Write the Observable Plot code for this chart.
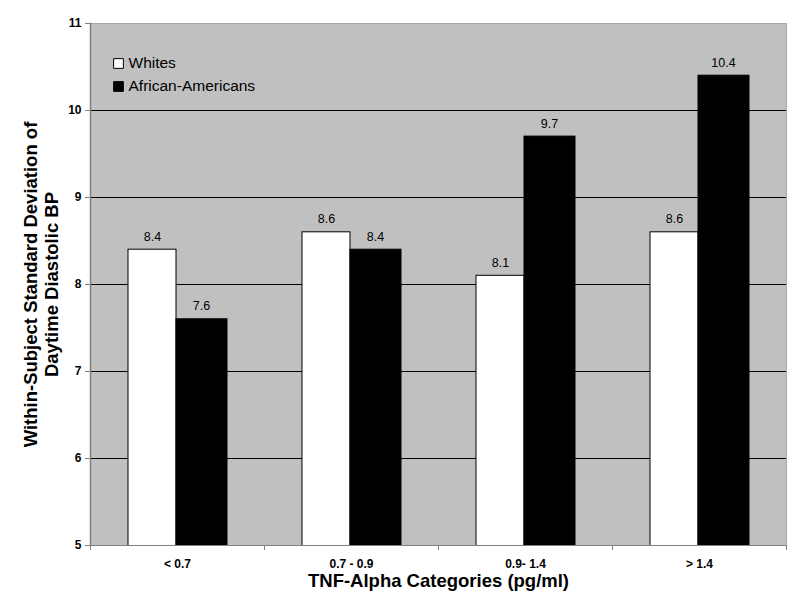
<!DOCTYPE html>
<html>
<head>
<meta charset="utf-8">
<script src="https://cdn.jsdelivr.net/npm/d3@7"></script>
<script src="https://cdn.jsdelivr.net/npm/@observablehq/plot@0.6"></script>
<style>
  html, body { margin: 0; padding: 0; background: #fff; }
  svg { font-family: "Liberation Sans", Arial, sans-serif; }
</style>
</head>
<body>
<div id="chart"></div>
<script>
const categories = ["< 0.7", "0.7 - 0.9", "0.9- 1.4", "> 1.4"];
const whites = [8.4, 8.6, 8.1, 8.6];
const africanAmericans = [7.6, 8.4, 9.7, 10.4];
const series = ["Whites", "African-Americans"];
const yTicks = [5, 6, 7, 8, 9, 10, 11];
const gridValues = [6, 7, 8, 9, 10];
const xTitle = "TNF-Alpha Categories (pg/ml)";
const yTitle = "Within-Subject Standard Deviation of\nDaytime Diastolic BP";

const W = categories.map((c, i) => ({category: c, value: whites[i]}));
const A = categories.map((c, i) => ({category: c, value: africanAmericans[i]}));

const font = "Liberation Sans, Arial, sans-serif";
const plotH = 522;

const chart = Plot.plot({
  width: 800,
  height: 615,
  marginLeft: 90,
  marginRight: 14,
  marginTop: 23,
  marginBottom: 70,
  style: {fontFamily: font, background: "#fff"},
  x: {domain: categories, padding: 0, axis: null},
  y: {domain: [5, 11], axis: null},
  marks: [
    Plot.frame({fill: "#c0c0c0", stroke: "#a8a8a8"}),
    Plot.ruleY(gridValues, {stroke: "#000", strokeWidth: 1}),
    Plot.barY(W, {x: "category", y: "value", fill: "#fff", stroke: "#000", strokeWidth: 1, insetLeft: 38, insetRight: 88, clip: true}),
    Plot.barY(A, {x: "category", y: "value", fill: "#000", stroke: "#000", strokeWidth: 1, insetLeft: 86, insetRight: 37, clip: true}),
    Plot.text(W, {x: "category", y: "value", text: d => d.value.toFixed(1), dx: -25, dy: -13, fontSize: 12.5, fill: "#000"}),
    Plot.text(A, {x: "category", y: "value", text: d => d.value.toFixed(1), dx: 24, dy: -13, fontSize: 12.5, fill: "#000"}),
    // axes lines
    Plot.frame({anchor: "left", stroke: "#808080", strokeWidth: 1.5}),
    Plot.ruleY([5], {stroke: "#808080", strokeWidth: 1}),
    Plot.axisY({ticks: yTicks, tickFormat: d => String(d), tickSize: 5, tickPadding: 4, fontSize: 12, fontWeight: "bold", stroke: "#808080", label: null, fill: "#000"}),
    // category boundary ticks
    Plot.ruleX(categories, {x: d => d, dx: -87, insetTop: plotH, insetBottom: -5, stroke: "#808080"}),
    Plot.ruleX([categories[categories.length - 1]], {x: d => d, dx: 87, insetTop: plotH, insetBottom: -5, stroke: "#808080"}),
    Plot.axisX({tickSize: 0, tickPadding: 14, fontSize: 12, fontWeight: "bold", label: null, fill: "#000"}),
    // axis titles
    Plot.text([xTitle], {frameAnchor: "bottom", dy: 36, textAnchor: "middle", lineAnchor: "middle", fontSize: 18.5, fontWeight: "bold", fill: "#000"}),
    Plot.text([yTitle], {frameAnchor: "left", dx: -50, rotate: -90, textAnchor: "middle", lineAnchor: "middle", fontSize: 18.5, fontWeight: "bold", lineHeight: 1.14, fill: "#000"}),
    // legend
    Plot.dot([series[0]], {frameAnchor: "top-left", dx: 28, dy: 40, symbol: "square", r: 5.5, fill: "#fff", stroke: "#000", strokeWidth: 1}),
    Plot.dot([series[1]], {frameAnchor: "top-left", dx: 28, dy: 63, symbol: "square", r: 5.5, fill: "#000", stroke: "#000", strokeWidth: 1}),
    Plot.text([series[0]], {frameAnchor: "top-left", dx: 38, dy: 40, textAnchor: "start", lineAnchor: "middle", fontSize: 15.5, fill: "#000"}),
    Plot.text([series[1]], {frameAnchor: "top-left", dx: 38, dy: 63, textAnchor: "start", lineAnchor: "middle", fontSize: 15.5, fill: "#000"})
  ]
});
document.getElementById("chart").appendChild(chart);
</script>
</body>
</html>
